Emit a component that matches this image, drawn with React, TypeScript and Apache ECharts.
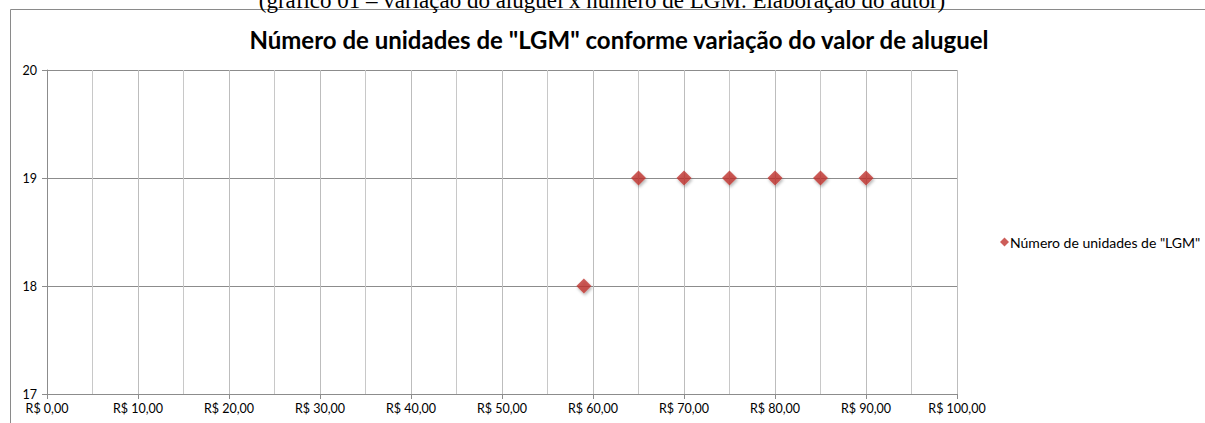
import React, { useEffect, useRef } from "react";
import * as echarts from "echarts";

const titleText = 'Número de unidades de "LGM" conforme variação do valor de aluguel';
const captionText = "(gráfico 01 – variação do aluguel x número de LGM. Elaboração do autor)";
const seriesName = 'Número de unidades de "LGM"';
const rentValues = [59, 65, 70, 75, 80, 85, 90];
const unitCounts = [18, 19, 19, 19, 19, 19, 19];

const fmtBRL = (v: number) => "R$ " + v.toFixed(2).replace(".", ",");

export default function App() {
  const ref = useRef<HTMLDivElement>(null);
  useEffect(() => {
    if (!ref.current) return;
    const chart = echarts.init(ref.current, undefined, { renderer: "svg" });
    const data = rentValues.map((x, i) => [x, unitCounts[i]]);
    chart.setOption({
      animation: false,
      backgroundColor: "#ffffff",
      textStyle: { fontFamily: "Lato" },
      title: {
        text: titleText,
        left: 614,
        textAlign: "center",
        top: 22,
        textStyle: { fontFamily: "Lato", fontWeight: "bold", fontSize: 24, color: "#000" },
      },
      graphic: [
        {
          type: "rect",
          shape: { x: 10.5, y: 9.5, width: 1400, height: 600 },
          style: { fill: "none", stroke: "#8a8a8a", lineWidth: 1 },
          silent: true,
        },
        {
          type: "text",
          x: 602,
          y: 12,
          style: {
            text: captionText,
            font: "23px 'Liberation Serif'",
            fill: "#000",
            align: "center",
            verticalAlign: "bottom",
          },
          silent: true,
        },
      ],
      legend: {
        left: 995,
        top: 230,
        icon: "diamond",
        itemWidth: 9,
        itemHeight: 9,
        itemGap: 4,
        textStyle: { fontFamily: "Lato", fontSize: 14, color: "#000", padding: [0, 0, 0, -4] },
        data: [seriesName],
      },
      grid: { left: 47, right: 248, top: 70, bottom: 29, containLabel: false },
      xAxis: {
        type: "value",
        min: 0,
        max: 100,
        interval: 10,
        axisLine: { show: true, lineStyle: { color: "#8c8c8c" } },
        axisTick: { show: true, length: 5, lineStyle: { color: "#8c8c8c" } },
        axisLabel: {
          formatter: (v: number) => fmtBRL(v),
          fontSize: 12.5,
          color: "#000",
          margin: 8,
          fontFamily: "Lato",
        },
        splitLine: { show: true, lineStyle: { color: "#bdbdbd" } },
        minorTick: { show: false, splitNumber: 2 },
        minorSplitLine: { show: true, lineStyle: { color: "#c8c8c8" } },
      },
      yAxis: {
        type: "value",
        min: 17,
        max: 20,
        interval: 1,
        axisLine: { show: true, lineStyle: { color: "#8c8c8c" } },
        axisTick: { show: true, length: 5, lineStyle: { color: "#8c8c8c" } },
        axisLabel: { fontSize: 12.5, color: "#000", margin: 10, fontFamily: "Lato" },
        splitLine: { show: true, lineStyle: { color: "#8c8c8c" } },
      },
      series: [
        {
          name: seriesName,
          type: "scatter",
          symbol: "diamond",
          symbolSize: 15,
          data,
          itemStyle: {
            color: "#c0352f",
            shadowBlur: 3,
            shadowOffsetX: 1,
            shadowOffsetY: 2,
            shadowColor: "rgba(0,0,0,0.35)",
          },
        },
      ],
    });
    return () => chart.dispose();
  }, []);
  return (
    <div
      ref={ref}
      style={{ position: "fixed", left: 0, top: 0, width: 1205, height: 423 }}
    />
  );
}
